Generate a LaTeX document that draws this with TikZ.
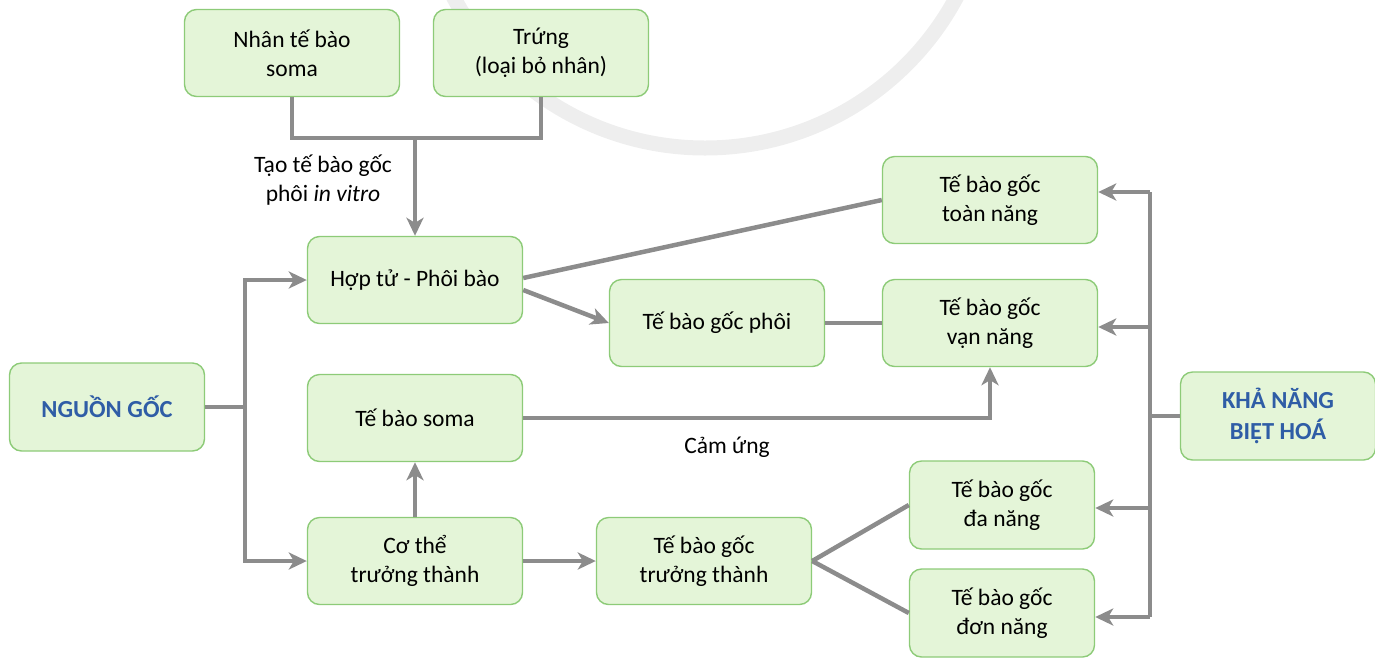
\documentclass[tikz,border=0pt]{standalone}
\usepackage{fontspec}
\setmainfont{Carlito}
\usetikzlibrary{arrows.meta,calc}
\definecolor{boxfill}{HTML}{E4F5D8}
\definecolor{boxline}{HTML}{8DCB78}
\definecolor{conn}{HTML}{8C8C8C}
\definecolor{head}{HTML}{2F5DA6}
\definecolor{wm}{HTML}{EEEEEE}
\begin{document}
\begin{tikzpicture}[x=1pt,y=-1pt,
  box/.style={draw=boxline, fill=boxfill, line width=1.4pt, rounded corners=12pt,
    minimum width=215pt, minimum height=87pt, align=center, inner sep=0pt,
    font=\fontsize{23.5}{29}\selectfont},
  headbox/.style={box, minimum width=195pt, minimum height=88pt,
    font=\fontsize{24.5}{31}\selectfont\bfseries, text=head},
  smallbox/.style={box, minimum width=185pt, minimum height=88pt},
  lbl/.style={align=center, font=\fontsize{23.5}{29}\selectfont, inner sep=0pt},
  ln/.style={draw=conn, line width=4.5pt},
  arr/.style={ln, -{Stealth[length=18pt,width=17pt,inset=5pt]}}]
\useasboundingbox (0,0) rectangle (1375,657);
\begin{scope}
  \clip (0,0) rectangle (1375,657);
  \draw[wm, line width=15pt] (705,-137) circle[radius=285pt];
\end{scope}
% nodes
\node[box] (nhan) at (292,53) {Nhân tế bào\\soma};
\node[box] (trung) at (541,53) {Trứng\\(loại bỏ nhân)};
\node[box] (hop) at (415,280) {Hợp tử - Phôi bào};
\node[box] (phoi) at (717,323) {Tế bào gốc phôi};
\node[box] (toan) at (990,200) {Tế bào gốc\\toàn năng};
\node[box] (van) at (990,323) {Tế bào gốc\\vạn năng};
\node[box] (soma) at (415,418) {Tế bào soma};
\node[headbox] (nguon) at (107,407) {NGUỒN GỐC};
\node[headbox] (kha) at (1278,416) {KHẢ NĂNG\\BIỆT HOÁ};
\node[box] (cothe) at (415,561) {Cơ thể\\trưởng thành};
\node[box] (tt) at (704,561) {Tế bào gốc\\trưởng thành};
\node[smallbox] (da) at (1002,505) {Tế bào gốc\\đa năng};
\node[smallbox] (don) at (1002,613) {Tế bào gốc\\đơn năng};
\node[lbl] (lab1) at (323,180) {Tạo tế bào gốc\\phôi \textit{in vitro}};
\node[lbl] (lab2) at (727,447) {Cảm ứng};
% connectors
\coordinate (j1) at (415,138);
\draw[ln] (nhan.south) |- (j1) -| (trung.south);
\draw[arr] (j1) -- (hop.north);
\coordinate (tr1) at (245,280);
\coordinate (tr2) at (245,561);
\draw[ln] (nguon.east) -- (nguon.east -| tr1);
\draw[arr] (nguon.east -| tr1) |- (hop.west);
\draw[arr] (nguon.east -| tr1) |- (cothe.west);
\draw[arr] ($(hop.east)+(0,10)$) -- (phoi.west);
\draw[ln] ($(hop.east)+(0,-2)$) -- (toan.west);
\draw[ln] (phoi.east) -- (van.west);
\draw[arr] (soma.east) -| (van.south);
\draw[arr] (cothe.north) -- (soma.south);
\draw[arr] (cothe.east) -- (tt.west);
\draw[ln] (tt.east) -- (da.west);
\draw[ln] (tt.east) -- (don.west);
\coordinate (ktop) at (1150,192);
\coordinate (kbot) at (1150,617);
\draw[ln] (kha.west) -- (kha.west -| ktop);
\draw[ln] (ktop) -- (kbot);
\draw[arr] (ktop) -- (ktop -| toan.east);
\draw[arr] (1150,327) -- (van.east |- 0,327);
\draw[arr] (1150,508) -- (da.east |- 0,508);
\draw[arr] (kbot) -- (kbot -| don.east);
\end{tikzpicture}
\end{document}
